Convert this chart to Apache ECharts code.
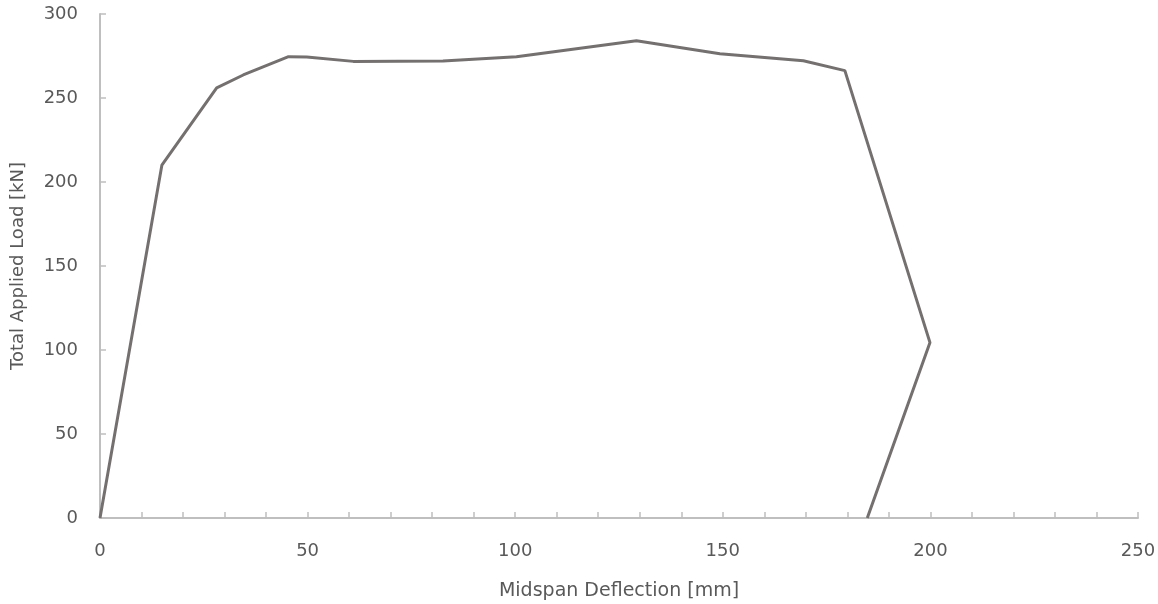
<!DOCTYPE html>
<html>
<head>
<meta charset="utf-8">
<script src="https://cdn.jsdelivr.net/npm/echarts@6/dist/echarts.min.js"></script>
<style>html,body{margin:0;padding:0;background:#fff;}#c{width:1158px;height:604px;}</style>
</head>
<body>
<div id="c"></div>
<script>
const deflection = [0, 14.9, 28.1, 34.5, 45.4, 49.8, 61, 82.6, 100.3, 129.2, 149.3, 169.4, 179.4, 199.9, 184.8];
const load = [0, 210, 256, 263.7, 274.6, 274.4, 271.8, 272, 274.6, 284.1, 276.4, 272.2, 266.3, 104.4, 0];
const xAxisName = 'Midspan Deflection [mm]';
const yAxisName = 'Total Applied Load [kN]';

const data = deflection.map((d, i) => [d, load[i]]);
const font = "'DejaVu Sans', 'Open Sans', sans-serif";
const chart = echarts.init(document.getElementById('c'), null, {renderer: 'canvas'});
chart.setOption({
  animation: false,
  grid: {left: 100, right: 20, top: 14, bottom: 86, containLabel: false, outerBoundsMode: 'none'},
  xAxis: {
    type: 'value', min: 0, max: 250, interval: 10,
    name: xAxisName, nameLocation: 'middle', nameGap: 64,
    nameTextStyle: {fontFamily: font, fontSize: 19, color: '#595959'},
    axisLine: {show: true, lineStyle: {color: '#bfbfbf', width: 2}},
    axisTick: {show: true, inside: true, length: 6, lineStyle: {color: '#bfbfbf', width: 1.5}},
    axisLabel: {fontFamily: font, fontSize: 18, color: '#595959', margin: 24,
      formatter: v => (v % 50 === 0 ? String(v) : '')},
    splitLine: {show: false}
  },
  yAxis: {
    type: 'value', min: 0, max: 300, interval: 50,
    name: yAxisName, nameLocation: 'middle', nameGap: 73, nameRotate: 90,
    nameTextStyle: {fontFamily: font, fontSize: 18, color: '#595959'},
    axisLine: {show: true, lineStyle: {color: '#bfbfbf', width: 2}},
    axisTick: {show: true, inside: true, length: 6, lineStyle: {color: '#bfbfbf', width: 1.5}},
    axisLabel: {fontFamily: font, fontSize: 18, color: '#595959', margin: 22},
    splitLine: {show: false}
  },
  series: [{
    type: 'line', data: data, showSymbol: false, symbol: 'none',
    lineStyle: {color: '#747070', width: 3}
  }]
});
</script>
</body>
</html>
